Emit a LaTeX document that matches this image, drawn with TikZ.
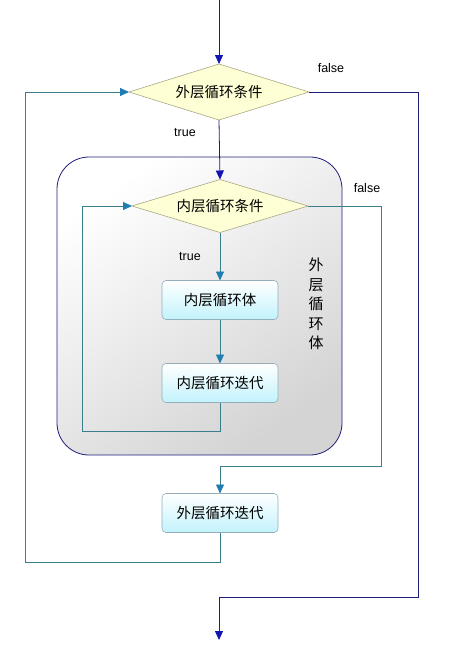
\documentclass[tikz,border=0pt]{standalone}
\usepackage{fontspec}
\setmainfont{Liberation Sans}
\newfontfamily\cjk{Noto Sans CJK SC}
\usetikzlibrary{shapes.geometric,arrows.meta}
\definecolor{navy}{HTML}{1E1E7A}
\definecolor{navytip}{HTML}{1414B4}
\definecolor{teal2}{HTML}{3A7E8E}
\definecolor{tealtip}{HTML}{1F7DB0}
\definecolor{dfill}{HTML}{FFFFD6}
\definecolor{dline}{HTML}{A8A884}
\definecolor{bline}{HTML}{94AEBC}
\definecolor{bcyan}{HTML}{C2F3FC}
\tikzset{
  cond/.style={diamond, aspect=3.2, draw=dline, fill=dfill, line width=0.6pt, inner sep=0pt, outer sep=0pt, font=\cjk\fontsize{14.5}{16}\selectfont},
  procbox/.style={draw=bline, rounded corners=4pt, line width=0.6pt, minimum width=116pt, minimum height=39pt, inner sep=0pt, outer sep=0pt, top color=white, bottom color=bcyan, font=\cjk\fontsize{14.5}{16}\selectfont},
  navyline/.style={draw=navy, line width=0.8pt},
  tealline/.style={draw=teal2, line width=0.8pt},
  navyarrow/.style={navyline, -{Triangle[width=8pt,length=9pt,color=navytip]}},
  tealarrow/.style={tealline, -{Triangle[width=8pt,length=9pt,color=tealtip]}},
  lbl/.style={font=\fontsize{12.5}{14}\selectfont, inner sep=0pt},
}
\begin{document}
\begin{tikzpicture}[x=1pt,y=-1pt]
\useasboundingbox (0,0) rectangle (464,649);
% outer loop body background
\path[draw=navy, line width=0.8pt, rounded corners=32pt, top color=white, bottom color=black!17, shading angle=35] (57,157) rectangle (342,455);
\node[font=\cjk\fontsize{15}{19.5}\selectfont, align=center, inner sep=0pt] (vt) at (316,304) {外\\层\\循\\环\\体};

\node[cond, minimum width=180pt, minimum height=56pt] (oc) at (219,92) {外层循环条件};
\node[cond, minimum width=176pt, minimum height=53pt] (ic) at (220,206) {内层循环条件};
\node[procbox] (ib) at (220,300) {内层循环体};
\node[procbox] (ii) at (220,383) {内层循环迭代};
\node[procbox] (oi) at (220,513) {外层循环迭代};

\coordinate (start) at (219,0);
\coordinate (stop) at (219,640);

\node[lbl] (f1) at (331,68) {false};
\node[lbl] (t1) at (185,133) {true};
\node[lbl] (f2) at (367,188) {false};
\node[lbl] (t2) at (190,257) {true};

\draw[navyarrow] (start) -- (oc.north);
\draw[navyarrow] (oc.south) -- (ic.north);
\draw[tealarrow] (ib.north |- ic.south) -- (ib.north);
\draw[tealarrow] (ib.south) -- (ii.north);
\draw[tealarrow] (ii.south) |- (82,431) -- (82,206) -- (ic.west);
\draw[tealarrow] (ic.east) -- (381,206) -- (381,466) -| (oi.north);
\draw[tealarrow] (oi.south) |- (25,562) -- (25,92) -- (oc.west);
\draw[navyarrow] (oc.east) -- (418,92) -- (418,597) -| (stop);
\end{tikzpicture}
\end{document}
